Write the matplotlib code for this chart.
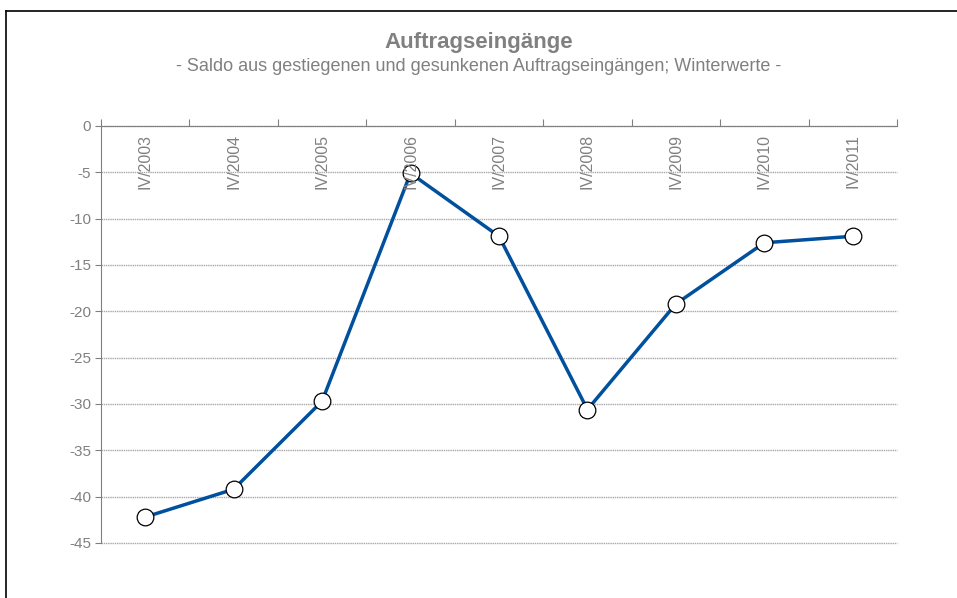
import matplotlib
matplotlib.use("Agg")
import matplotlib.pyplot as plt
import numpy as np

# data
categories = ["IV/2003", "IV/2004", "IV/2005", "IV/2006", "IV/2007",
              "IV/2008", "IV/2009", "IV/2010", "IV/2011"]
values = [-42.2, -39.2, -29.7, -5.1, -11.9, -30.6, -19.2, -12.6, -11.9]
yticks = [0, -5, -10, -15, -20, -25, -30, -35, -40, -45]

plt.rcParams['font.family'] = ['Liberation Sans', 'DejaVu Sans']
grey = '#808080'

fig = plt.figure(figsize=(9.57, 5.98), dpi=100)
ax = fig.add_axes([0.1055, 0.092, 0.8318, 0.6973])

x = np.arange(len(categories))
ax.plot(x, values, color='#00509E', linewidth=2.5, zorder=3,
        marker='o', markersize=12, markerfacecolor='white',
        markeredgecolor='black', markeredgewidth=0.9)

ax.set_xlim(-0.5, len(categories) - 0.5)
ax.set_ylim(-45, 0)

# y axis
ax.set_yticks(yticks)
ax.set_yticklabels([str(v) for v in yticks])
ax.tick_params(axis='y', colors=grey, labelcolor=grey, labelsize=11,
               length=4, width=0.8, pad=3)
ax.grid(axis='y', color='#a8a8a8', linestyle=(0, (1, 0.6)), linewidth=1.0)
for gl in ax.yaxis.get_gridlines():
    gl.set_clip_on(False)
ax.set_axisbelow(True)

# x axis on top, ticks between categories
ax.xaxis.set_ticks_position('top')
ax.set_xticks(np.arange(len(categories) + 1) - 0.5)
ax.set_xticklabels([])
ax.tick_params(axis='x', colors=grey, length=5, width=0.8, direction='out')
for xi, lab in zip(x, categories):
    ax.text(xi, -0.9, lab, rotation=90, ha='center', va='top',
            color=grey, fontsize=11.5)

for side in ['right', 'bottom']:
    ax.spines[side].set_visible(False)
for side in ['top', 'left']:
    ax.spines[side].set_color(grey)
    ax.spines[side].set_linewidth(0.8)

# titles
fig.text(0.5, 0.929, "Auftragseingänge", ha='center', va='center',
         fontsize=16, fontweight='bold', color=grey)
fig.text(0.5, 0.888, "- Saldo aus gestiegenen und gesunkenen Auftragseingängen; Winterwerte -",
         ha='center', va='center', fontsize=13, color=grey)

# outer frame (left and top only)
fig.add_artist(plt.Line2D([0.0063, 0.0063], [0.0, 0.9816], color='black',
                          linewidth=1.2, transform=fig.transFigure))
fig.add_artist(plt.Line2D([0.0063, 1.0], [0.9816, 0.9816], color='black',
                          linewidth=1.2, transform=fig.transFigure))

fig.savefig("out.png", dpi=100)
